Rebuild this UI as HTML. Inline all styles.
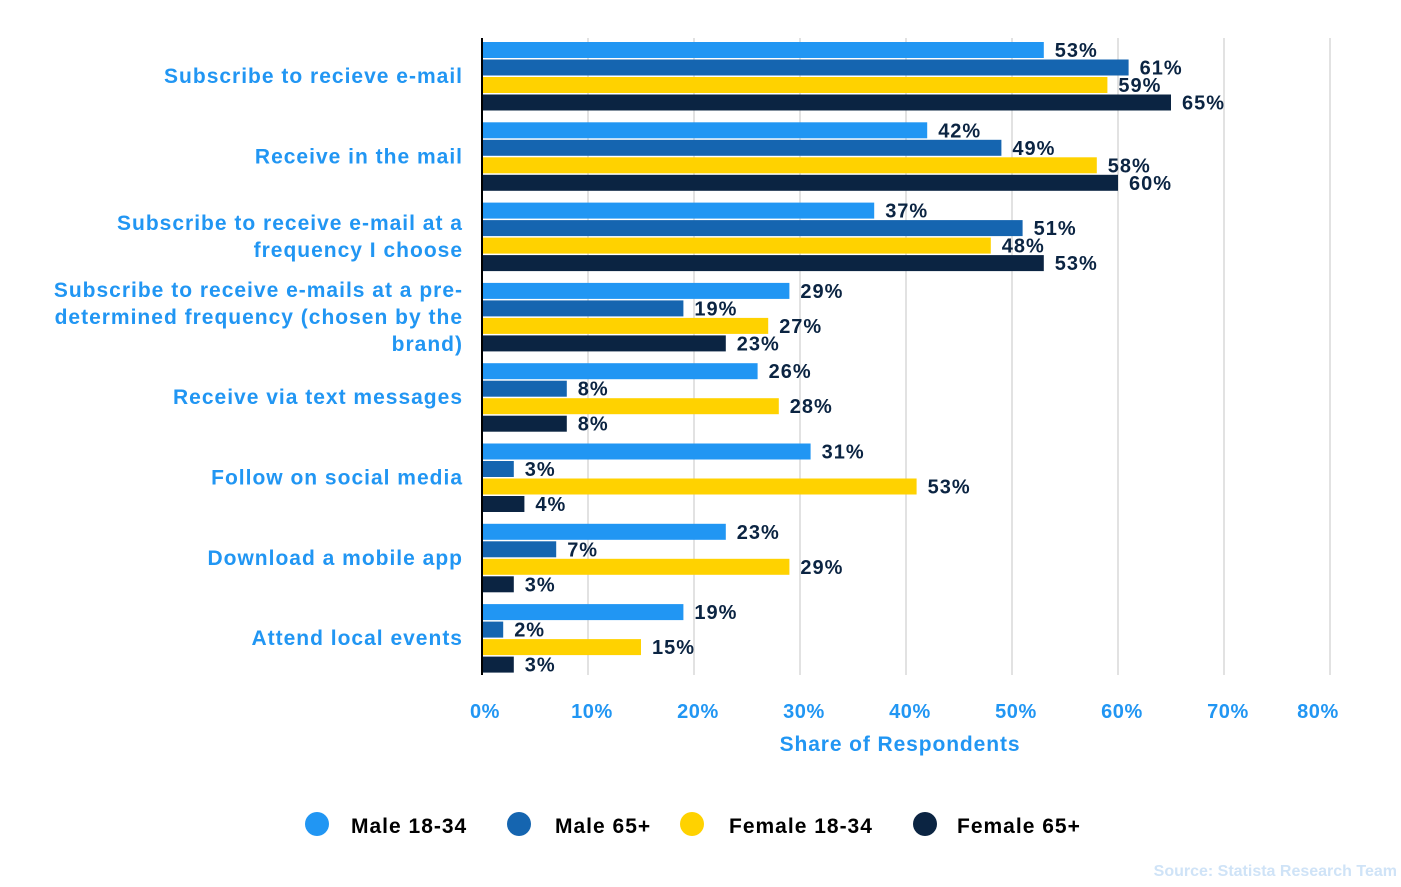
<!DOCTYPE html>
<html><head><meta charset="utf-8"><style>
body{margin:0;background:#fff;width:1401px;height:882px;overflow:hidden;font-family:"Liberation Sans",sans-serif}
svg text{font-family:"Liberation Sans",sans-serif;font-weight:bold}
</style></head><body>
<svg id="chart" width="1401" height="882"></svg>
<script>
const categories=[["Subscribe to recieve e-mail"],["Receive in the mail"],["Subscribe to receive e-mail at a","frequency I choose"],["Subscribe to receive e-mails at a pre-","determined frequency (chosen by the","brand)"],["Receive via text messages"],["Follow on social media"],["Download a mobile app"],["Attend local events"]];
const seriesNames=["Male 18-34","Male 65+","Female 18-34","Female 65+"];
const male1834=[53,42,37,29,26,31,23,19];
const male65=[61,49,51,19,8,3,7,2];
const female1834=[59,58,48,27,28,41,29,15];
const female1834Labels=["59%","58%","48%","27%","28%","53%","29%","15%"];
const female65=[65,60,53,23,8,4,3,3];
const xTicks=[0,10,20,30,40,50,60,70,80];
const series=[male1834,male65,female1834,female65];
const labels=[male1834.map(v=>v+'%'),male65.map(v=>v+'%'),female1834Labels,female65.map(v=>v+'%')];
const colors=["#2196f3","#1565b0","#ffd200","#0b2442"];
const NS="http://www.w3.org/2000/svg";
const svg=document.getElementById('chart');
const x0=482,pxPer=10.6;
const xs=v=>x0+v*pxPer;
const groupTop=i=>42+i*80.3;
function mk(t,a,p){const e=document.createElementNS(NS,t);for(const k in a)e.setAttribute(k,a[k]);(p||svg).appendChild(e);return e;}
xTicks.forEach(t=>{
 if(t>0){const g=mk('line',{x1:xs(t),x2:xs(t),y1:38,y2:675,stroke:'#e2e2e2','stroke-width':2});
 
 }
 const l=mk('text',{x:xs(t)+(t==0?3:(t==80?-12:4)),y:718,'font-size':20,fill:'#2196f3','text-anchor':'middle','letter-spacing':0.6});l.textContent=t+'%';
 
 
});
categories.forEach((c,i)=>{
 series.forEach((s,j)=>{
  const y=groupTop(i)+j*17.5;
  const r=mk('rect',{x:x0,y:y,width:xs(s[i])-x0,height:16,fill:colors[j]});
  
  
  const t=mk('text',{x:xs(s[i])+11,y:y+15,'font-size':20,fill:'#0b2442','letter-spacing':1});t.textContent=labels[j][i];
  
  
 });
 const cy=groupTop(i)+34, n=c.length;
 c.forEach((line,k)=>{
  const t=mk('text',{x:463,y:cy+7+(k-(n-1)/2)*27,'font-size':21,fill:'#2196f3','text-anchor':'end','letter-spacing':1});t.textContent=line;
  
  
 });
});
const ax=mk('line',{x1:x0,x2:x0,y1:38,y2:675,stroke:'#000','stroke-width':2});


const at=mk('text',{x:900,y:751,'font-size':21,fill:'#2196f3','text-anchor':'middle','letter-spacing':0.9});at.textContent='Share of Respondents';


const lx=[317,519,692,925],tx=[351,555,729,957];
seriesNames.forEach((n,j)=>{
 const c=mk('circle',{cx:lx[j],cy:824,r:12,fill:colors[j]});
 
 
 const t=mk('text',{x:tx[j],y:833,'font-size':21,fill:'#000','letter-spacing':1});t.textContent=n;
 
 
});
const s=mk('text',{x:1397,y:876,'font-size':16,fill:'#cfe3f7','text-anchor':'end'});s.textContent='Source: Statista Research Team';


</script>
</body></html>
